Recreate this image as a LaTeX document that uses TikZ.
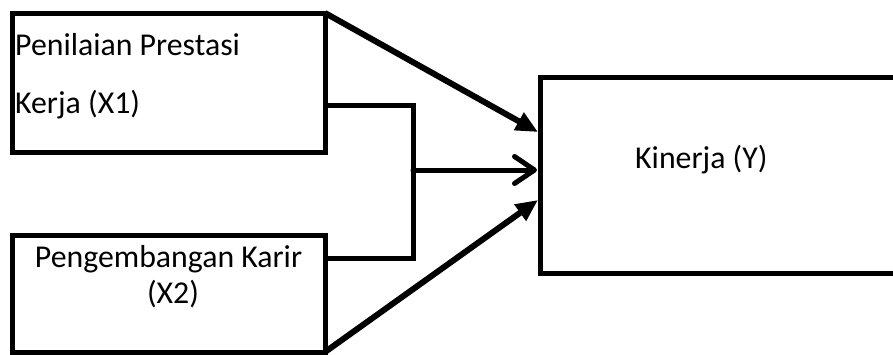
\documentclass[tikz,border=0pt]{standalone}
\usepackage{fontspec}
\setmainfont{Carlito}
\usetikzlibrary{arrows.meta}
\begin{document}
\begin{tikzpicture}[x=1pt,y=-1pt,
  box/.style={draw=black,line width=5pt,minimum width=313pt,inner sep=0pt,outer sep=0pt},
  lbl/.style={inner sep=0pt,font=\fontsize{31.8}{36}\selectfont},
  conn/.style={line width=5pt,line join=miter},
  filledarrow/.style={conn,line width=6pt,-{Triangle[length=22pt,width=19pt]}},
  openarrow/.style={conn,line cap=round,-{Straight Barb[length=20pt,width=27pt,round]}}]
\useasboundingbox (0,0) rectangle (893,354);
\clip (0,0) rectangle (893,354);
\fill[white] (0,0) rectangle (893,354);
% boxes
\node[box,minimum height=139pt] (x1) at (168.5,82.5) {};
\node[box,minimum height=117pt] (x2) at (168.5,293.5) {};
\node[box,minimum width=380pt,minimum height=196pt] (y) at (730,175) {};
% texts
\node[lbl,anchor=base west] (t1a) at (15,55) {Penilaian Prestasi};
\node[lbl,anchor=base west] (t1b) at (15,113) {Kerja (X1)};
\node[lbl,anchor=base] (t2a) at (168.5,267) {Pengembangan Karir};
\node[lbl,anchor=base] (t2b) at (173,303) {(X2)};
\node[lbl,anchor=base west] (ty) at (635,168) {Kinerja (Y)};
% connector points
\coordinate (a1) at (538,132);
\coordinate (a2) at (537,170);
\coordinate (a3) at (538,200);
\coordinate (s1) at (325,105);
\coordinate (k1) at (413,105);
\coordinate (k2) at (413,258);
\coordinate (s2) at (325,258);
\coordinate (m) at (413,170);
% connectors
\draw[filledarrow] (x1.north east) -- (a1);
\draw[conn] (s1) -- (k1) -- (k2) -- (s2);
\draw[openarrow] (m) -- (a2);
\draw[filledarrow] (x2.south east) -- (a3);
\end{tikzpicture}
\end{document}
